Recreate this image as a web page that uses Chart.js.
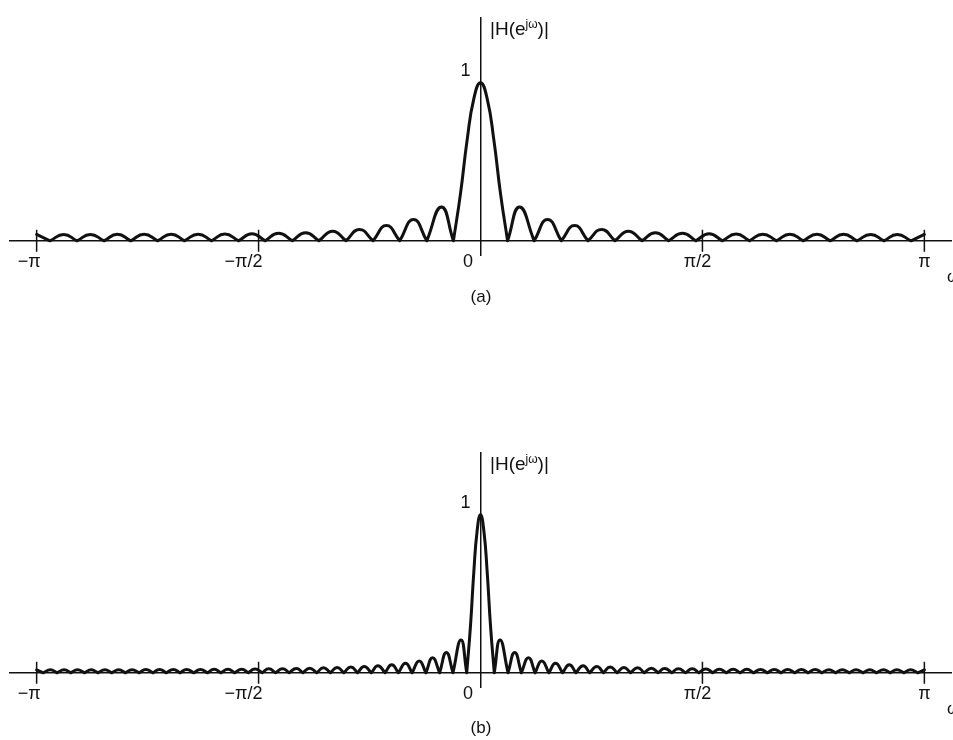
<!DOCTYPE html>
<html>
<head>
<meta charset="utf-8">
<script src="https://cdn.jsdelivr.net/npm/chart.js@4.4.1/dist/chart.umd.min.js"></script>
<style>
  body { margin: 0; width: 953px; height: 740px; overflow: hidden; background: #fff; position: relative; }
  canvas { position: absolute; left: 0; }
  .lbl { position: absolute; font-family: "Liberation Sans", Arial, sans-serif; font-size: 19px; line-height: 18px; color: #111; white-space: nowrap; }
  .lbl sup { font-size: 12px; vertical-align: 7px; line-height: 0; }
  .cap { transform: translateX(-50%); font-size: 17px; }
</style>
</head>
<body>
<canvas id="chartA" width="953" height="300" style="top:0"></canvas>
<canvas id="chartB" width="953" height="300" style="top:432px"></canvas>

<div class="lbl" style="left:490px; top:20px">|H(e<sup>jω</sup>)|</div>
<div class="lbl" style="left:947px; top:268px; font-size:17px">ω</div>
<div class="lbl cap" style="left:481px; top:288px">(a)</div>

<div class="lbl" style="left:490px; top:455px">|H(e<sup>jω</sup>)|</div>
<div class="lbl" style="left:947px; top:700px; font-size:17px">ω</div>
<div class="lbl cap" style="left:481px; top:719px">(b)</div>

<script>
// frecuencia en unidades de pi
const xTickValues = [-1, -0.5, 0, 0.5, 1];
const xTickLabels = ["−π", "−π/2", "0", "π/2", "π"];
const xLabelPad = [3, 6, 5, 2, 0]; // espacios para correr la etiqueta a la izquierda
const yTickValues = [1];
const yTickLabels = ["1"];

// (a) lóbulo principal (mitad derecha) y lóbulos laterales del lado positivo
const mainXA = [0, 0.015, 0.030, 0.045, 0.061];
const mainYA = [1, 0.90, 0.64, 0.30, 0];
const zerosA = [0.061, 0.121, 0.182, 0.242, 0.303, 0.364, 0.424, 0.485,
                0.545, 0.606, 0.667, 0.727, 0.788, 0.848, 0.909, 0.970];
const peakXA = [0.088, 0.151, 0.212, 0.273, 0.333, 0.394, 0.455, 0.515,
                0.576, 0.636, 0.697, 0.758, 0.818, 0.879, 0.939, 1.0];
const peakYA = [0.214, 0.135, 0.096, 0.072, 0.061, 0.051, 0.047, 0.044,
                0.043, 0.042, 0.042, 0.041, 0.041, 0.040, 0.040, 0.040];

// (b)
const mainXB = [0, 0.0075, 0.015, 0.0225, 0.031];
const mainYB = [1, 0.90, 0.64, 0.30, 0];
const zerosB = [0.031, 0.062, 0.092, 0.123, 0.154, 0.185, 0.215, 0.246,
                0.277, 0.308, 0.338, 0.369, 0.400, 0.431, 0.462, 0.492,
                0.523, 0.554, 0.585, 0.615, 0.646, 0.677, 0.708, 0.738,
                0.769, 0.800, 0.831, 0.862, 0.892, 0.923, 0.954, 0.985];
const peakXB = [0.044, 0.077, 0.108, 0.138, 0.169, 0.200, 0.231, 0.262,
                0.292, 0.323, 0.354, 0.385, 0.415, 0.446, 0.477, 0.508,
                0.538, 0.569, 0.600, 0.631, 0.662, 0.692, 0.723, 0.754,
                0.785, 0.815, 0.846, 0.877, 0.908, 0.938, 0.969, 1.0];
const peakYB = [0.208, 0.128, 0.095, 0.075, 0.060, 0.051, 0.045, 0.040,
                0.036, 0.033, 0.031, 0.029, 0.027, 0.026, 0.025, 0.024,
                0.023, 0.022, 0.022, 0.021, 0.021, 0.020, 0.020, 0.020,
                0.019, 0.019, 0.019, 0.019, 0.019, 0.019, 0.019, 0.019];

Chart.defaults.font.family = "'Liberation Sans', Arial, sans-serif";
Chart.defaults.color = "#111";

// arma la curva: cada lóbulo es un tramo aparte (corte con y:null) para que quede la punta en los ceros
function buildCurve(mainX, mainY, zeros, peakX, peakY) {
  const lobes = peakX.map((px, k) => {
    const seg = [{ x: zeros[k], y: 0 }, { x: px, y: peakY[k] }];
    if (k + 1 < zeros.length) seg.push({ x: zeros[k + 1], y: 0 });
    return seg;
  });
  const mirror = seg => seg.map(p => ({ x: -p.x, y: p.y })).reverse();
  const main = mainX.map((x, i) => ({ x: -x, y: mainY[i] })).reverse()
    .concat(mainX.slice(1).map((x, i) => ({ x, y: mainY[i + 1] })));
  const segments = lobes.map(mirror).reverse().concat([main], lobes);
  const pts = [];
  segments.forEach(seg => {
    pts.push(...seg, { x: seg[seg.length - 1].x, y: null });
  });
  return pts;
}

// marcas de los ticks que cruzan el eje
const tickMarks = {
  id: "tickMarks",
  afterDatasetsDraw(chart) {
    const { ctx, scales: { x, y } } = chart;
    const y0 = y.getPixelForValue(0);
    ctx.save();
    ctx.strokeStyle = "#111";
    ctx.lineWidth = 1.5;
    xTickValues.forEach(v => {
      if (v === 0) return;
      const px = x.getPixelForValue(v);
      ctx.beginPath();
      ctx.moveTo(px, y0 - 11);
      ctx.lineTo(px, y0 + 11);
      ctx.stroke();
    });
    ctx.restore();
  }
};

function makeChart(id, points, yMax, padTop) {
  return new Chart(document.getElementById(id), {
    type: "line",
    data: {
      datasets: [{
        data: points,
        borderColor: "#111",
        borderWidth: 3,
        pointRadius: 0,
        tension: 0.5,
        fill: false,
        borderJoinStyle: "round",
        borderCapStyle: "round"
      }]
    },
    options: {
      responsive: false,
      animation: false,
      events: [],
      layout: { padding: { left: 10, right: 2, top: padTop, bottom: 45 } },
      plugins: { legend: { display: false }, tooltip: { enabled: false } },
      scales: {
        x: {
          type: "linear",
          position: { y: 0 },
          min: -1.06,
          max: 1.06,
          afterBuildTicks: s => { s.ticks = xTickValues.map(v => ({ value: v })); },
          grid: { display: false, drawTicks: false },
          border: { color: "#111", width: 1.5 },
          ticks: {
            padding: 10,
            autoSkip: false,
            maxRotation: 0,
            font: { size: 18 },
            callback: (v, i) => xTickLabels[i] + " ".repeat(xLabelPad[i])
          }
        },
        y: {
          type: "linear",
          position: { x: 0 },
          min: -0.09,
          max: yMax,
          afterBuildTicks: s => { s.ticks = yTickValues.map(v => ({ value: v })); },
          grid: { display: false, drawTicks: false },
          border: { color: "#111", width: 1.5 },
          ticks: {
            padding: 0,
            labelOffset: -11.5,
            font: { size: 18 },
            callback: (v, i) => yTickLabels[i] + "  "
          }
        }
      }
    },
    plugins: [tickMarks]
  });
}

makeChart("chartA", buildCurve(mainXA, mainYA, zerosA, peakXA, peakYA), 1.41, 18);
makeChart("chartB", buildCurve(mainXB, mainYB, zerosB, peakXB, peakYB), 1.39, 21);
</script>
</body>
</html>
